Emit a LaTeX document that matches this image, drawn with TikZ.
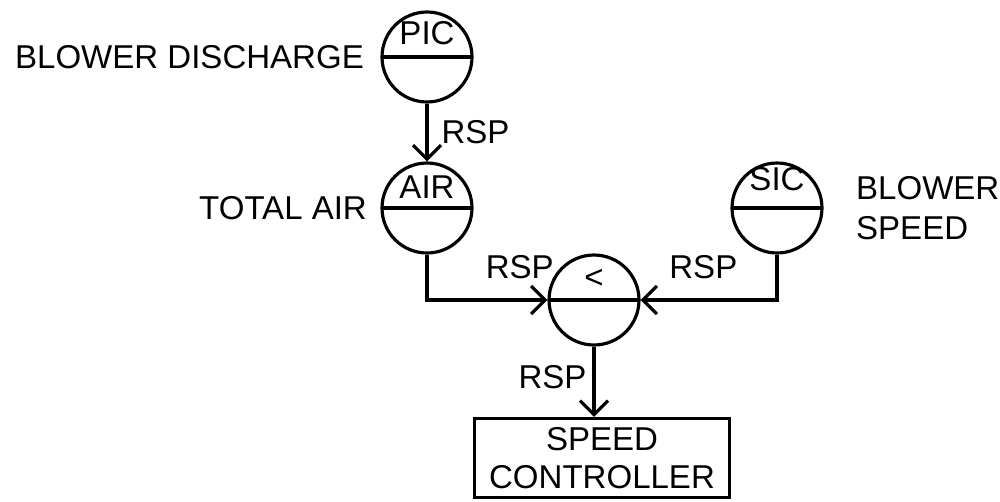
\documentclass[tikz,border=0pt]{standalone}
\usepackage{fontspec}
\setmainfont{Liberation Sans}
\usetikzlibrary{arrows.meta, positioning}

\begin{document}
\begin{tikzpicture}[x=0.02cm, y=-0.02cm, line width=1.8pt,
    font=\fontsize{18.8}{22.6}\selectfont,
    >={Straight Barb[length=8pt, width=16pt]},
    instr/.style={circle, draw, minimum size=1.8cm, inner sep=0pt,
      path picture={\draw (path picture bounding box.west) -- (path picture bounding box.east);}},
    tag/.style={inner sep=0pt, anchor=base},
    lbl/.style={inner sep=0pt}]
  \useasboundingbox (0,0) rectangle (1000,501);

  % Instrument bubbles
  \node[instr] (pic) at (427,57) {};
  \node[instr] (air) at (427,208) {};
  \node[instr] (sic) at (777,208) {};
  \node[instr] (sel) at (594,300) {};
  \node[tag] (pictag) at ([yshift=0.26cm]pic.center) {PIC};
  \node[tag] (airtag) at ([yshift=0.2cm]air.center) {AIR};
  \node[tag] (sictag) at ([yshift=0.36cm]sic.center) {SIC};
  \node[tag] (seltag) at ([yshift=0.23cm]sel.center) {<};

  % Controller
  \node[draw, minimum width=5.1cm, minimum height=1.58cm, align=center,
        font=\fontsize{18.8}{21.3}\selectfont] (ctrl) at (602,458) {SPEED\\CONTROLLER};

  % Labels
  \node[lbl, left=0.3cm of pic] (pictxt) {BLOWER DISCHARGE};
  \node[lbl, left=0.24cm of air] (airtxt) {TOTAL AIR};
  \node[lbl, right=0.62cm of sic, align=left] (sictxt) {BLOWER\\SPEED};

  % Setpoint signals
  \draw[->] (pic) -- node[lbl, right=0.26cm] (rsp1) {RSP} (air);
  \draw[->] (air) |- node[lbl, pos=0.885, above=0.4cm] (rsp2) {RSP} (sel);
  \draw[->] (sic) |- node[lbl, pos=0.77, above=0.4cm] (rsp3) {RSP} (sel);
  \draw[->] (sel) -- node[lbl, pos=0.44, left=0.12cm] (rsp4) {RSP} (sel |- ctrl.north);
\end{tikzpicture}
\end{document}
